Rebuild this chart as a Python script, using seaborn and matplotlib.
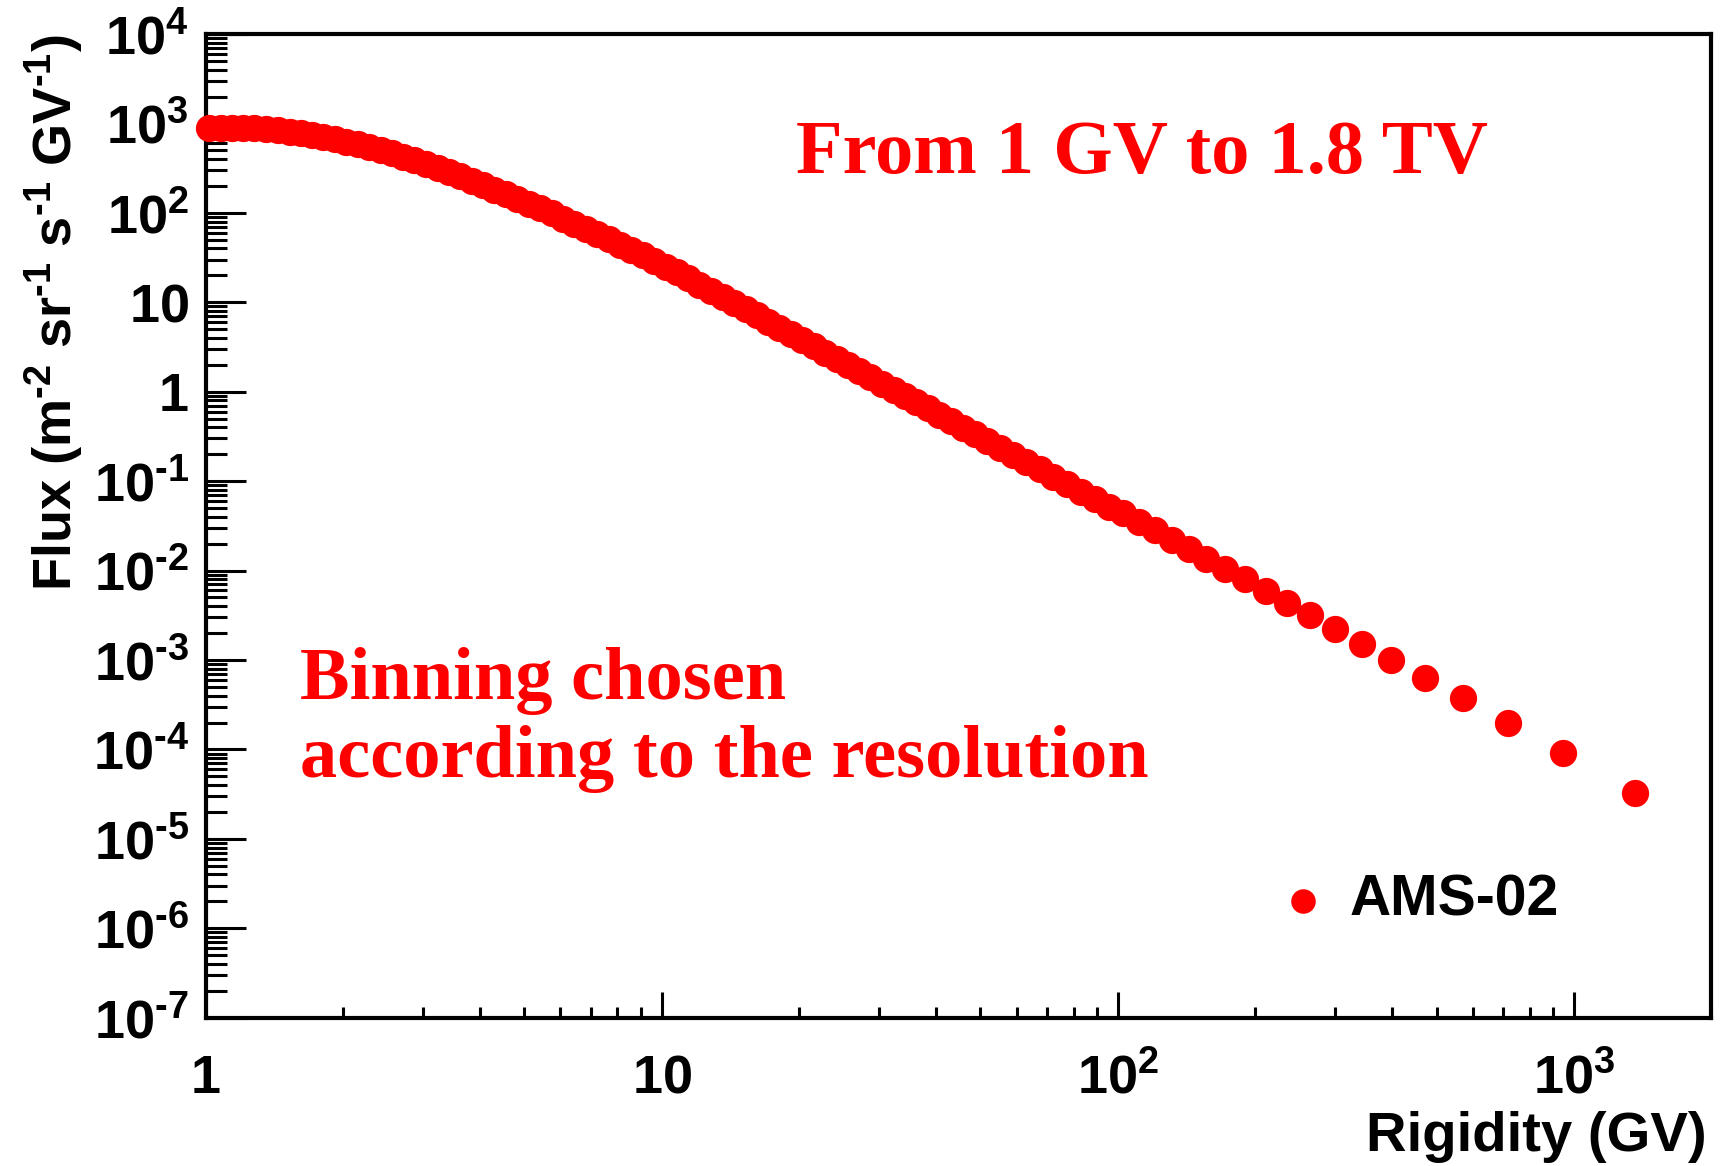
import numpy as np
import pandas as pd
import seaborn as sns
import matplotlib
matplotlib.use("Agg")
import matplotlib.pyplot as plt
from matplotlib.ticker import LogLocator, NullFormatter

# data
rigidity_gv = [1.02, 1.08, 1.14, 1.21, 1.28, 1.36, 1.44, 1.53, 1.62, 1.71,
               1.81, 1.92, 2.03, 2.16, 2.28, 2.42, 2.56, 2.71, 2.87, 3.05,
               3.23, 3.42, 3.62, 3.83, 4.06, 4.30, 4.56, 4.83, 5.11, 5.42,
               5.74, 6.07, 6.44, 6.82, 7.22, 7.65, 8.10, 8.58, 9.09, 9.63,
               10.2, 10.8, 11.4, 12.1, 12.8, 13.6, 14.4, 15.3, 16.2, 17.1,
               18.1, 19.2, 20.3, 21.6, 22.8, 24.2, 25.6, 27.1, 28.7, 30.4,
               32.3, 34.2, 36.2, 38.3, 40.6, 43.1, 45.8, 48.7, 51.8, 55.3,
               59.0, 63.0, 67.4, 72.2, 77.4, 83.1, 89.0,
               95.5, 102.9, 111.6, 120.9, 131.5, 143.6, 156.4, 172.3, 190.5, 211,
               235, 264, 300, 343, 398, 471, 572, 716, 947, 1365]

flux = [883, 893, 897, 895, 885, 867, 843, 811, 774, 735,
        697, 662, 628, 586, 546, 508, 470, 427, 386, 351,
        318, 286, 256, 229, 205, 182, 161, 143, 127, 112,
        98.6, 86.5, 76.0, 66.8, 58.3, 50.8, 44.3, 38.5, 33.5, 28.9,
        25.0, 21.6, 18.6, 15.8, 13.5, 11.5, 9.82, 8.37, 7.13, 6.08,
        5.19, 4.42, 3.77, 3.21, 2.74, 2.33, 1.99, 1.69, 1.45, 1.23,
        1.05, 0.895, 0.763, 0.650, 0.555, 0.470, 0.398, 0.335, 0.282, 0.236,
        0.197, 0.164, 0.136, 0.112, 0.0929, 0.0762, 0.0630,
        0.0518, 0.0437, 0.0352, 0.0282, 0.0221, 0.0174, 0.0136, 0.0104, 0.00798, 0.00594,
        0.00437, 0.00316, 0.00223, 0.00151, 0.00100, 0.000622, 0.000372, 0.000199, 9.16e-5, 3.22e-5]

x_ticks = [1, 10, 100, 1000]
x_ticklabels = ['1', '10', '10^{2}', '10^{3}']
y_ticks = [1e-7, 1e-6, 1e-5, 1e-4, 1e-3, 1e-2, 1e-1, 1, 10, 1e2, 1e3, 1e4]
y_ticklabels = ['10^{\u20107}', '10^{\u20106}', '10^{\u20105}', '10^{\u20104}', '10^{\u20103}',
                '10^{\u20102}', '10^{\u20101}', '1', '10', '10^{2}', '10^{3}', '10^{4}']

df = pd.DataFrame({'Rigidity': rigidity_gv, 'Flux': flux})

# style
sns.set_style("ticks")
plt.rcParams['font.family'] = ['Liberation Sans', 'DejaVu Sans']
plt.rcParams['font.weight'] = 'bold'
plt.rcParams['text.color'] = 'black'
plt.rcParams['axes.labelcolor'] = 'black'
plt.rcParams['xtick.color'] = 'black'
plt.rcParams['ytick.color'] = 'black'
plt.rcParams['mathtext.fontset'] = 'custom'
plt.rcParams['mathtext.rm'] = 'Liberation Sans:bold'
plt.rcParams['mathtext.bf'] = 'Liberation Sans:bold'
plt.rcParams['mathtext.default'] = 'bf'

fig = plt.figure(figsize=(17.23, 11.66), dpi=100)
ax = fig.add_axes([0.1193, 0.1272, 0.8738, 0.8436])

sns.scatterplot(data=df, x='Rigidity', y='Flux', ax=ax, color='#ff0000',
                s=385, linewidth=0, label='AMS-02', clip_on=False, zorder=5)

ax.set_xscale('log')
ax.set_yscale('log')
ax.set_xlim(1, 2000)
ax.set_ylim(1e-7, 1e4)

ax.set_xticks(x_ticks, labels=['$\\mathbf{%s}$' % t for t in x_ticklabels])
ax.set_yticks(y_ticks, labels=['$\\mathbf{%s}$' % t for t in y_ticklabels])
ax.xaxis.set_minor_locator(LogLocator(base=10, subs=np.arange(2, 10), numticks=20))
ax.yaxis.set_minor_locator(LogLocator(base=10, subs=np.arange(2, 10), numticks=30))
ax.xaxis.set_minor_formatter(NullFormatter())
ax.yaxis.set_minor_formatter(NullFormatter())

ax.tick_params(which='both', direction='in', top=False, right=False,
               color='black', labelcolor='black', width=2.2)
ax.tick_params(axis='y', which='major', length=29, labelsize=39, pad=12)
ax.tick_params(axis='y', which='minor', length=15)
ax.tick_params(axis='x', which='major', length=19, labelsize=39, pad=54)
ax.tick_params(axis='x', which='minor', length=8)
for lab in ax.get_xticklabels():
    lab.set_verticalalignment('baseline')

for sp in ax.spines.values():
    sp.set_linewidth(3)
    sp.set_color('black')
ax.grid(False)

ax.set_xlabel('Rigidity (GV)', loc='right', fontsize=40.5, fontweight='bold')
ax.xaxis.set_label_coords(0.9973, -0.1355)
ax.xaxis.label.set_verticalalignment('baseline')
ax.set_ylabel('Flux (m$^{\u20102}$ sr$^{\u20101}$ s$^{\u20101}$ GV$^{\u20101}$)',
              loc='top', fontsize=39, fontweight='bold')
ax.yaxis.set_label_coords(-0.0804, 1.0)

# red annotations
serif = ['Liberation Serif', 'DejaVu Serif']
fig.text(795.7 / 1723, 1 - 172.5 / 1166, 'From 1 GV to 1.8 TV', color='#ff0000',
         fontsize=55, fontweight='bold', family=serif, ha='left', va='baseline')
fig.text(300 / 1723, 1 - 699 / 1166, 'Binning chosen', color='#ff0000',
         fontsize=53.6, fontweight='bold', family=serif, ha='left', va='baseline')
fig.text(300 / 1723, 1 - 777 / 1166, 'according to the resolution', color='#ff0000',
         fontsize=53.6, fontweight='bold', family=serif, ha='left', va='baseline')

ax.legend(loc='center left', bbox_to_anchor=(0.7397, 0.2273), bbox_transform=fig.transFigure,
          frameon=False, prop={'family': 'Liberation Sans', 'weight': 'bold', 'size': 41},
          handlelength=1.0, handletextpad=0.32, borderpad=0, borderaxespad=0,
          markerscale=0.9)

fig.savefig('out.png', dpi=100, facecolor='white')
